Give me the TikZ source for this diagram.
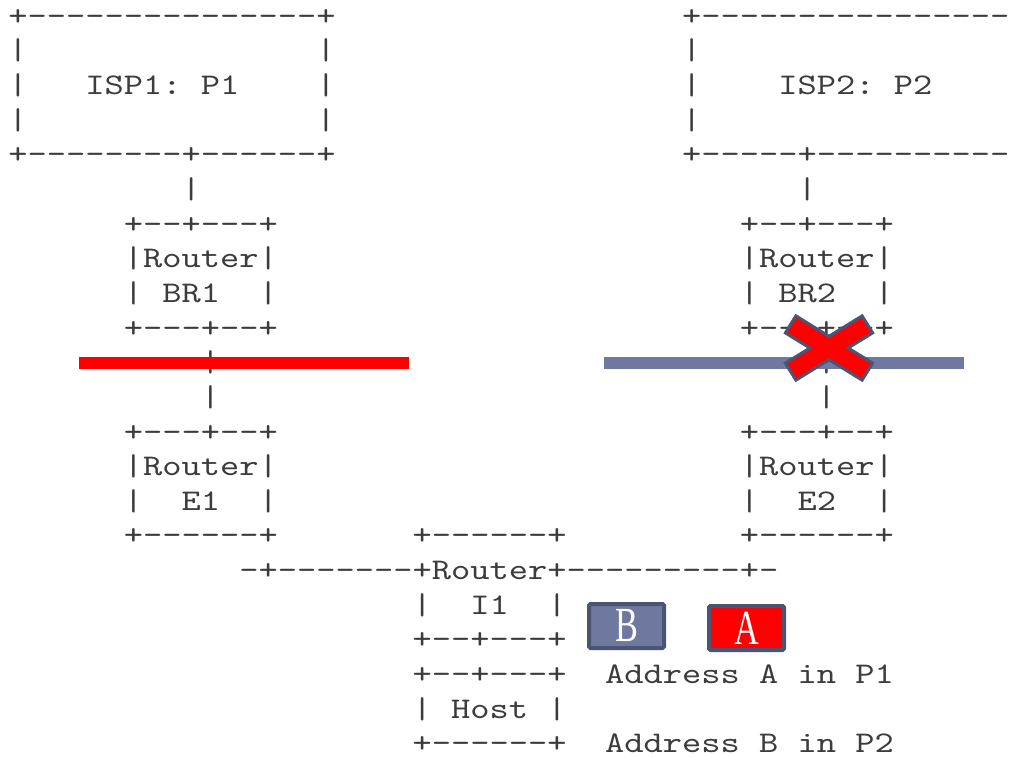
\documentclass[tikz,border=0pt]{standalone}
\usepackage{fontspec}
\newfontfamily\asc{lmmono10-regular.otf}[FakeStretch=1.2222,Ligatures=TeXOff]
\newfontfamily\condserif{Liberation Serif}[FakeStretch=0.7]
\definecolor{asctext}{HTML}{3C3C3C}
\definecolor{xred}{HTML}{FF0000}
\definecolor{slateline}{HTML}{6F79A0}
\definecolor{slateborder}{HTML}{4B5473}
\newcommand\asp{\kern19.25pt\relax}
\newcommand\ascrow[4]{\node[asciitext] (#1) at ({8.375+19.25*#2},{25.2+34.65*#3}) {#4};}
\tikzset{
  asciitext/.style={font=\asc\fontsize{30}{30}\selectfont, text=asctext, inner sep=0pt, outer sep=0pt, anchor=base west},
  barline/.style={line width=12.5pt, line cap=butt},
  labelbox/.style={draw=slateborder, line width=4pt, rounded corners=1.5pt, minimum width=75pt, minimum height=44pt, inner sep=0pt, text=white, font=\condserif\fontsize{49}{49}\selectfont}
}
\begin{document}
\begin{tikzpicture}[x=1pt,y=-1pt]
\useasboundingbox (0,0) rectangle (1032,757);
\fill[white] (0,0) rectangle (1032,757);
% ISP1
\ascrow{ia0}{0}{0}{+---------------+}
\ascrow{ia1l}{0}{1}{|}\ascrow{ia1r}{16}{1}{|}
\ascrow{ia2l}{0}{2}{|}\ascrow{isp1}{4}{2}{ISP1:\asp P1}\ascrow{ia2r}{16}{2}{|}
\ascrow{ia3l}{0}{3}{|}\ascrow{ia3r}{16}{3}{|}
\ascrow{ia4}{0}{4}{+--------+------+}
\ascrow{ia5}{9}{5}{|}
\ascrow{br1a}{6}{6}{+--+---+}
\ascrow{br1b}{6}{7}{|Router|}
\ascrow{br1cl}{6}{8}{|}\ascrow{br1}{8}{8}{BR1}\ascrow{br1cr}{13}{8}{|}
\ascrow{br1d}{6}{9}{+---+--+}
\ascrow{la10}{10}{10}{|}
\ascrow{la11}{10}{11}{|}
\ascrow{e1a}{6}{12}{+---+--+}
\ascrow{e1b}{6}{13}{|Router|}
\ascrow{e1cl}{6}{14}{|}\ascrow{e1}{9}{14}{E1}\ascrow{e1cr}{13}{14}{|}
\ascrow{e1d}{6}{15}{+------+}
% ISP2 (its right side runs past the picture's edge)
\ascrow{ib0}{35}{0}{+----------------}
\ascrow{ib1l}{35}{1}{|}
\ascrow{ib2l}{35}{2}{|}\ascrow{isp2}{40}{2}{ISP2:\asp P2}
\ascrow{ib3l}{35}{3}{|}
\ascrow{ib4}{35}{4}{+-----+----------}
\ascrow{ib5}{41}{5}{|}
\ascrow{br2a}{38}{6}{+--+---+}
\ascrow{br2b}{38}{7}{|Router|}
\ascrow{br2cl}{38}{8}{|}\ascrow{br2}{40}{8}{BR2}\ascrow{br2cr}{45}{8}{|}
\ascrow{br2d}{38}{9}{+---+--+}
\ascrow{lb10}{42}{10}{|}
\ascrow{lb11}{42}{11}{|}
\ascrow{e2a}{38}{12}{+---+--+}
\ascrow{e2b}{38}{13}{|Router|}
\ascrow{e2cl}{38}{14}{|}\ascrow{e2}{41}{14}{E2}\ascrow{e2cr}{45}{14}{|}
\ascrow{e2d}{38}{15}{+------+}
% I1 and host
\ascrow{i1a}{21}{15}{+------+}
\ascrow{lan}{12}{16}{-+-------+Router+---------+-}
\ascrow{i1cl}{21}{17}{|}\ascrow{i1}{24}{17}{I1}\ascrow{i1cr}{28}{17}{|}
\ascrow{i1d}{21}{18}{+--+---+}
\ascrow{ha}{21}{19}{+--+---+}
\ascrow{addra}{31}{19}{Address\asp A\asp in\asp P1}
\ascrow{hbl}{21}{20}{|}\ascrow{host}{23}{20}{Host}\ascrow{hbr}{28}{20}{|}
\ascrow{hc}{21}{21}{+------+}
\ascrow{addrb}{31}{21}{Address\asp B\asp in\asp P2}
% overlays
\coordinate (redL) at (79,363);
\coordinate (redR) at (409,363);
\coordinate (blueL) at (604,363);
\coordinate (blueR) at (964,363);
\draw[barline, xred] (redL) -- (redR);
\draw[barline, slateline] (blueL) -- (blueR);
\begin{scope}[shift={(829,348)}]
\filldraw[fill=xred, draw=slateborder, line width=3pt, line join=miter]
  (19.1,0) -- (43.6,15.1) -- (33.1,32.1) -- (0,11.7) -- (-33.1,32.1) -- (-43.6,15.1)
  -- (-19.1,0) -- (-43.6,-15.1) -- (-33.1,-32.1) -- (0,-11.7) -- (33.1,-32.1) -- (43.6,-15.1) -- cycle;
\end{scope}
\node[labelbox, fill=slateline] (boxB) at (626.5,626) {B};
\node[labelbox, fill=xred] (boxA) at (746.5,628) {A};
\end{tikzpicture}
\end{document}
